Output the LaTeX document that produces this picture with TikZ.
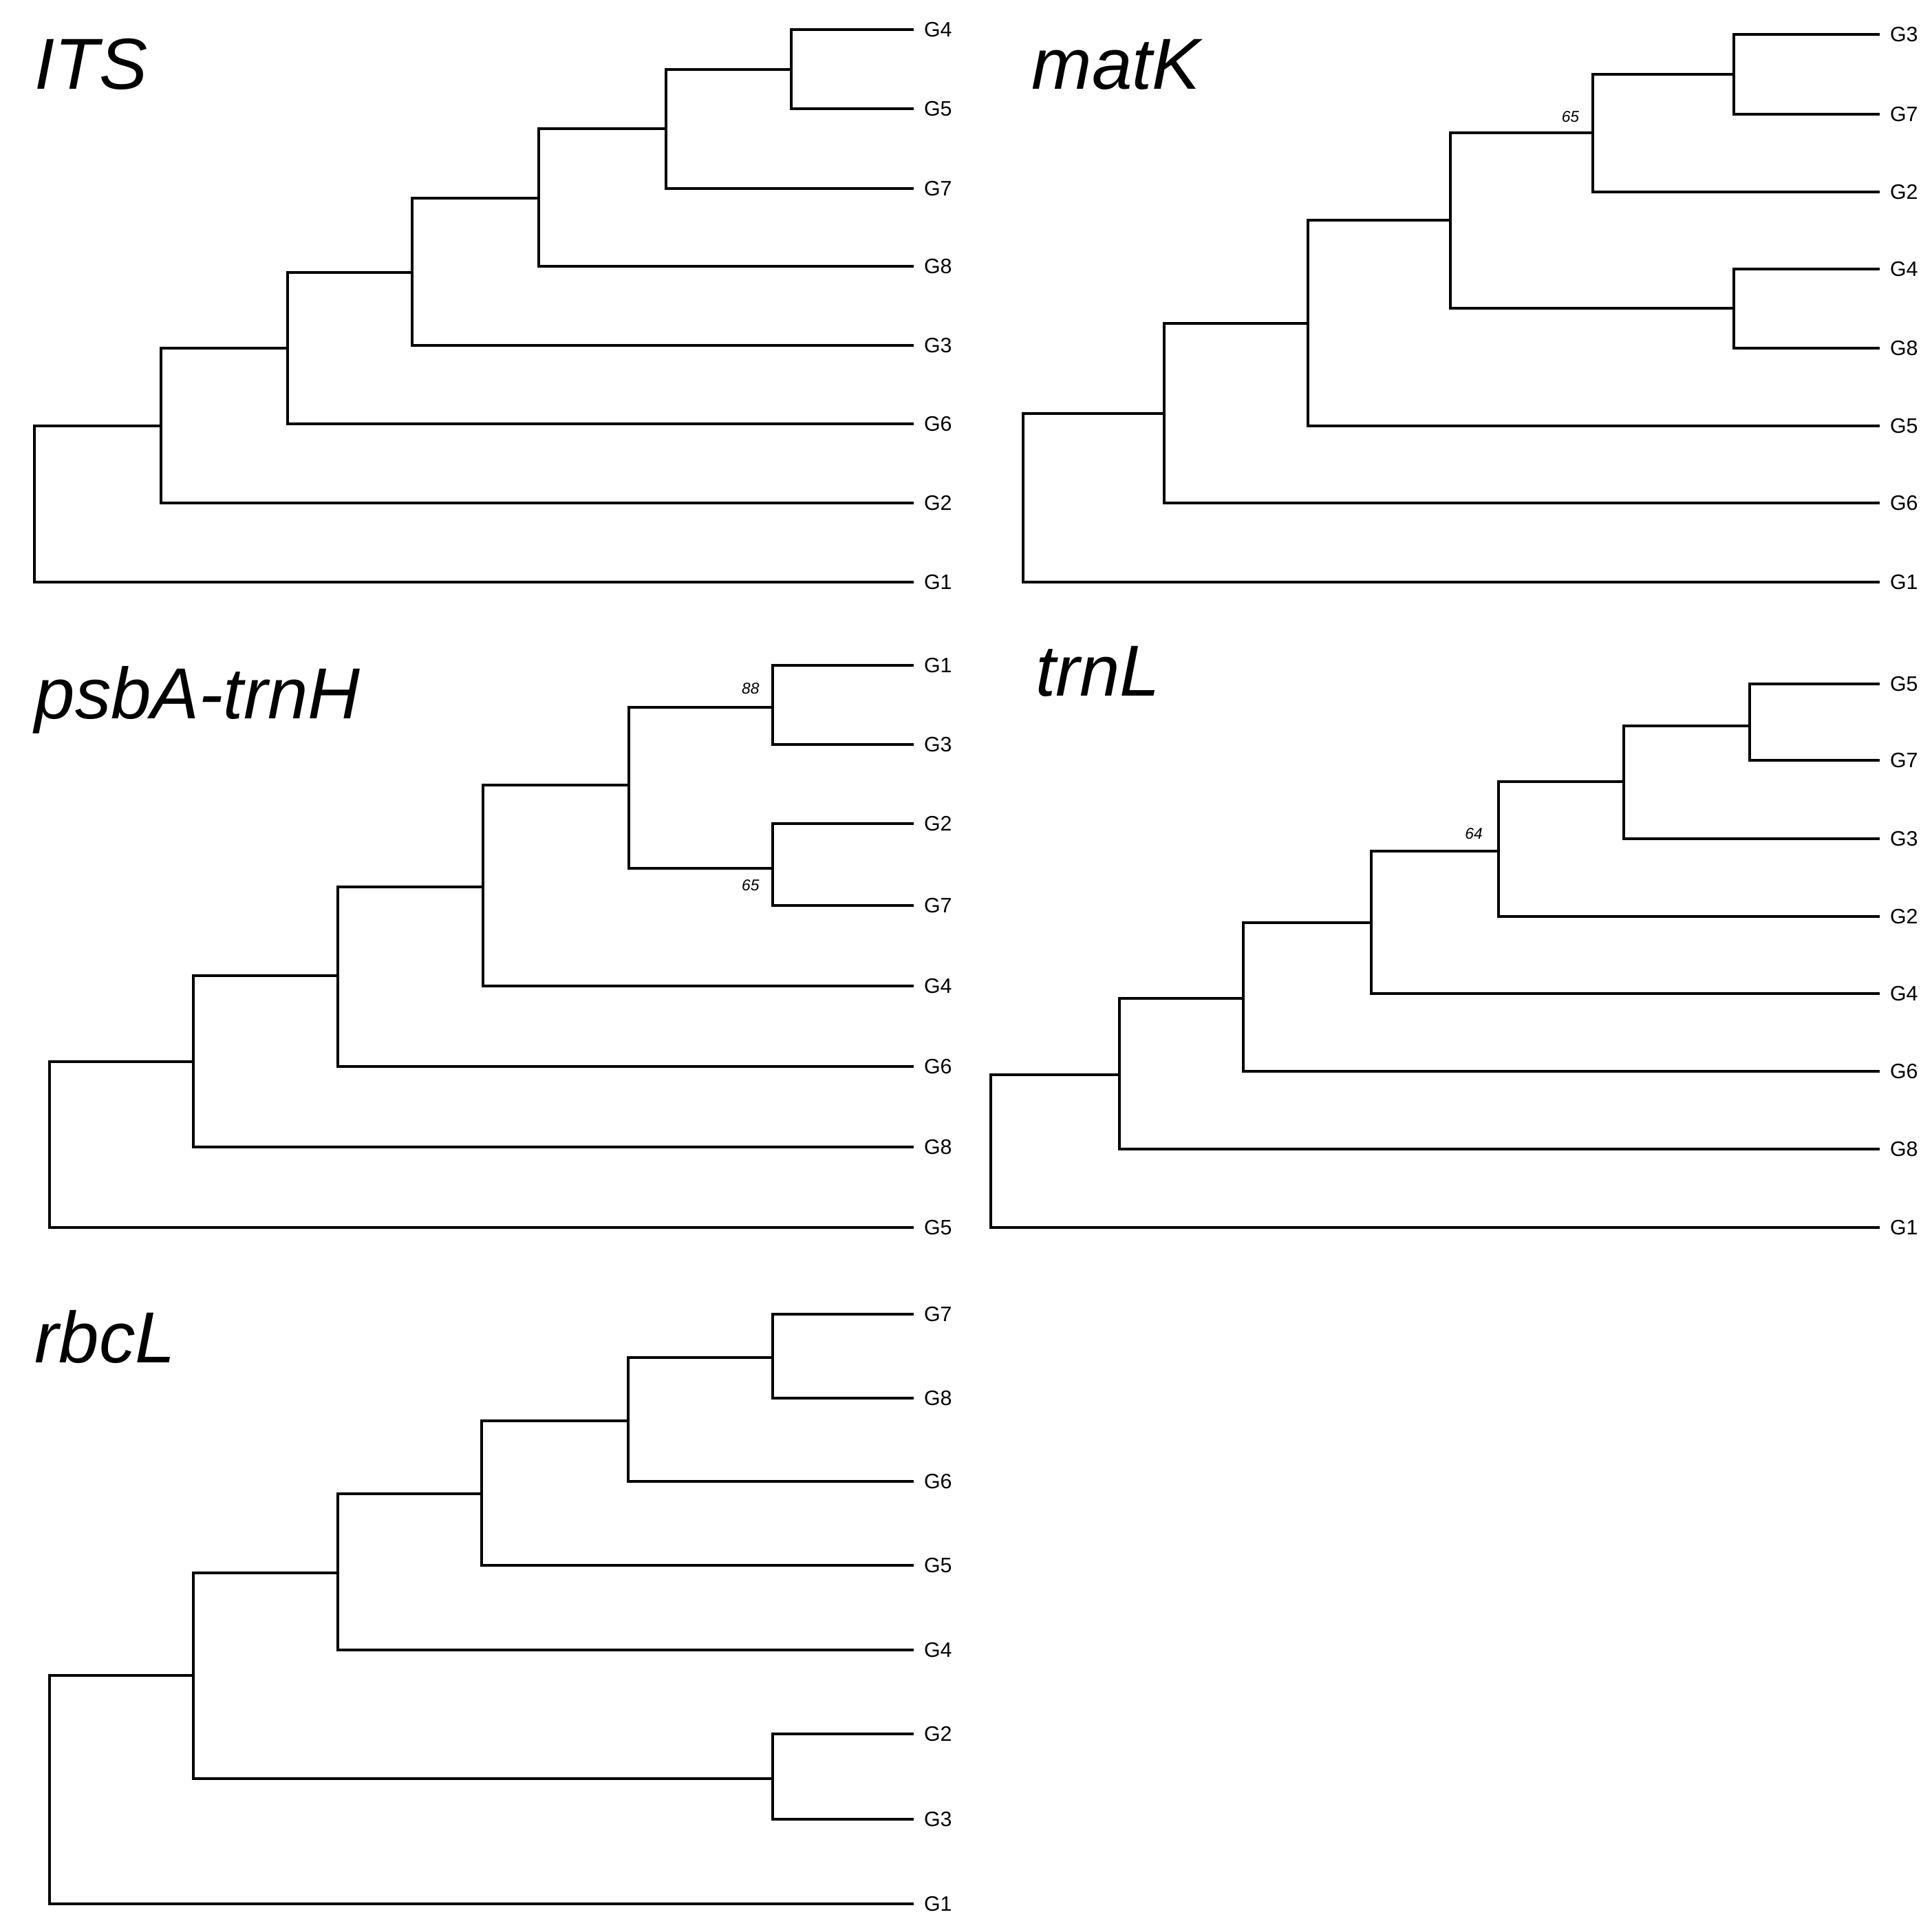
\documentclass[tikz,border=0pt]{standalone}
\usepackage{fontspec}
\setmainfont{Liberation Sans}
\begin{document}
\begin{tikzpicture}[x=0.5mm,y=-0.5mm,
  br/.style={line width=1.1mm,line join=miter},
  lab/.style={anchor=west,inner sep=0pt,font=\fontsize{24}{24}\selectfont},
  ttl/.style={anchor=base west,inner sep=0pt,font=\fontsize{83}{83}\selectfont\itshape},
  bs/.style={inner sep=0pt,font=\fontsize{18}{18}\selectfont\itshape}]
\useasboundingbox (0,0) rectangle (1560,1558);
\newcommand\cl[5]{\draw[br] (#4,#2) -- (#1,#2) -- (#1,#3) -- (#5,#3);}
\newcommand\lf[3]{\node[lab] at (#1+8,#2) {#3};}
% ITS
\node[ttl] (t1) at (28,72) {ITS};
\cl{639}{24}{88}{738}{738}
\cl{538}{56}{152}{639}{738}
\cl{435}{104}{215}{538}{738}
\cl{333}{160}{279}{435}{738}
\cl{232}{220}{342}{333}{738}
\cl{130}{281}{406}{232}{738}
\cl{28}{344}{470}{130}{738}
\lf{738}{24}{G4}\lf{738}{88}{G5}\lf{738}{152}{G7}\lf{738}{215}{G8}
\lf{738}{279}{G3}\lf{738}{342}{G6}\lf{738}{406}{G2}\lf{738}{470}{G1}
% matK
\node[ttl] (t2) at (833,72) {matK};
\cl{1400}{28}{92}{1518}{1518}
\cl{1286}{60}{155}{1400}{1518}
\cl{1400}{217}{281}{1518}{1518}
\cl{1171}{107}{249}{1286}{1400}
\cl{1056}{178}{344}{1171}{1518}
\cl{940}{261}{406}{1056}{1518}
\cl{826}{334}{470}{940}{1518}
\node[bs] (b1) at (1268,94) {65};
\lf{1518}{28}{G3}\lf{1518}{92}{G7}\lf{1518}{155}{G2}\lf{1518}{217}{G4}
\lf{1518}{281}{G8}\lf{1518}{344}{G5}\lf{1518}{406}{G6}\lf{1518}{470}{G1}
% psbA-trnH
\node[ttl] (t3) at (28,580) {psbA-trnH};
\cl{624}{537}{601}{738}{738}
\cl{624}{665}{731}{738}{738}
\cl{508}{571}{701}{624}{624}
\cl{390}{634}{796}{508}{738}
\cl{273}{716}{861}{390}{738}
\cl{156}{788}{926}{273}{738}
\cl{40}{857}{991}{156}{738}
\node[bs] (b2) at (606,556) {88};
\node[bs] (b3) at (606,715) {65};
\lf{738}{537}{G1}\lf{738}{601}{G3}\lf{738}{665}{G2}\lf{738}{731}{G7}
\lf{738}{796}{G4}\lf{738}{861}{G6}\lf{738}{926}{G8}\lf{738}{991}{G5}
% trnL
\node[ttl] (t4) at (836,562) {trnL};
\cl{1413}{552}{614}{1518}{1518}
\cl{1311}{586}{677}{1413}{1518}
\cl{1210}{631}{740}{1311}{1518}
\cl{1107}{687}{802}{1210}{1518}
\cl{1004}{745}{865}{1107}{1518}
\cl{904}{806}{928}{1004}{1518}
\cl{800}{868}{991}{904}{1518}
\node[bs] (b4) at (1190,673) {64};
\lf{1518}{552}{G5}\lf{1518}{614}{G7}\lf{1518}{677}{G3}\lf{1518}{740}{G2}
\lf{1518}{802}{G4}\lf{1518}{865}{G6}\lf{1518}{928}{G8}\lf{1518}{991}{G1}
% rbcL
\node[ttl] (t5) at (28,1100) {rbcL};
\cl{624}{1061}{1129}{738}{738}
\cl{507}{1096}{1196}{624}{738}
\cl{389}{1147}{1264}{507}{738}
\cl{273}{1206}{1332}{389}{738}
\cl{624}{1400}{1469}{738}{738}
\cl{156}{1270}{1436}{273}{624}
\cl{40}{1353}{1537}{156}{738}
\lf{738}{1061}{G7}\lf{738}{1129}{G8}\lf{738}{1196}{G6}\lf{738}{1264}{G5}
\lf{738}{1332}{G4}\lf{738}{1400}{G2}\lf{738}{1469}{G3}\lf{738}{1537}{G1}
\end{tikzpicture}
\end{document}
